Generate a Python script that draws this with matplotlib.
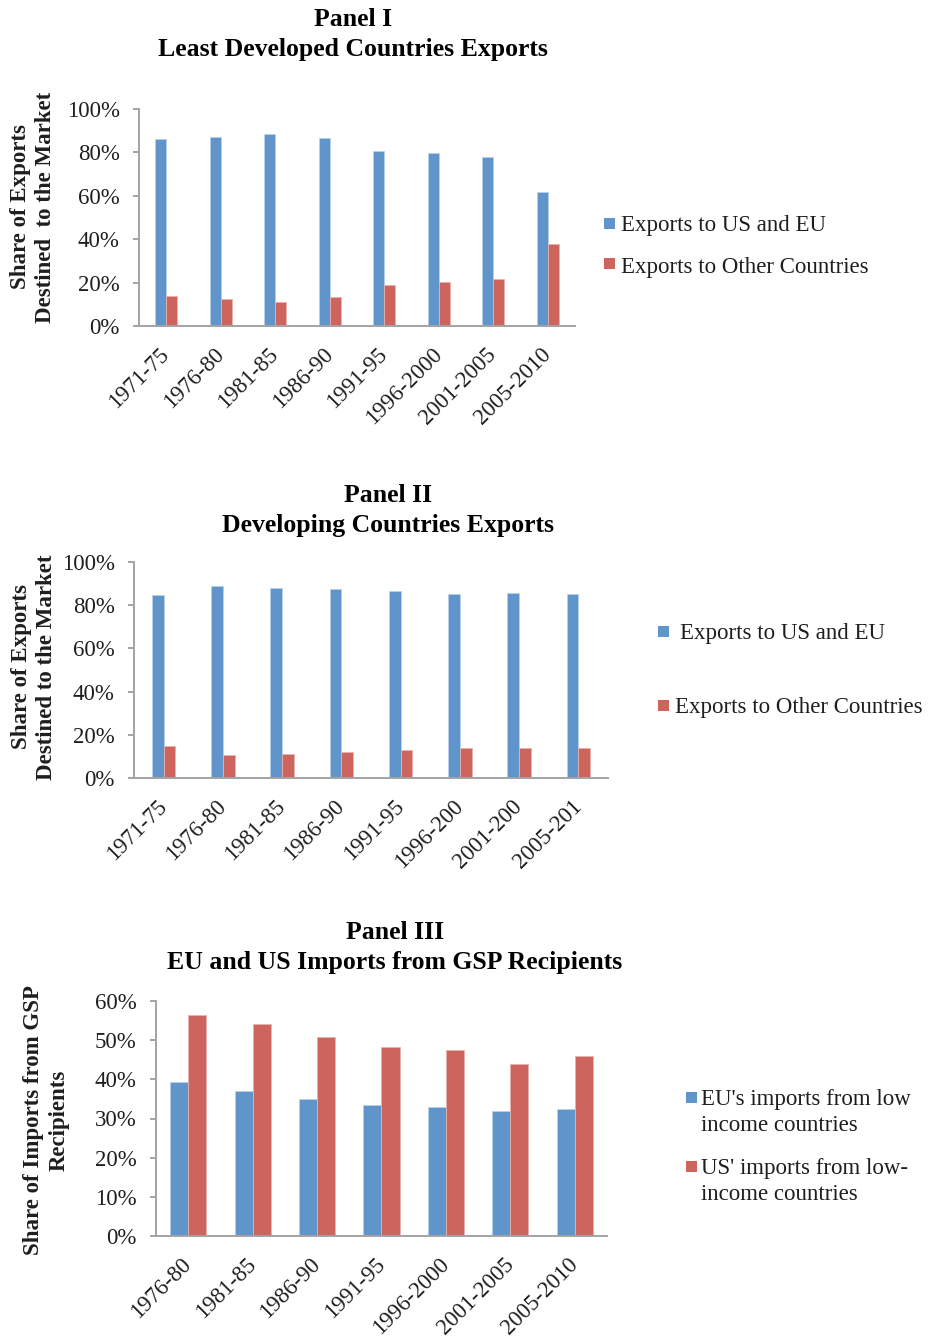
import matplotlib
matplotlib.use("Agg")
import matplotlib.pyplot as plt
from matplotlib.patches import Rectangle
import numpy as np

# ---------------- data ----------------
ldc_periods = ['1971-75', '1976-80', '1981-85', '1986-90', '1991-95',
               '1996-2000', '2001-2005', '2005-2010']
ldc_us_eu = [86.0, 86.9, 88.5, 86.6, 80.5, 79.6, 77.7, 61.8]
ldc_other = [13.7, 12.6, 11.1, 13.2, 18.9, 20.1, 21.8, 37.6]

dev_periods = ['1971-75', '1976-80', '1981-85', '1986-90', '1991-95',
               '1996-200', '2001-200', '2005-201']
dev_us_eu = [84.8, 88.7, 87.9, 87.5, 86.5, 85.3, 85.6, 85.1]
dev_other = [14.6, 10.7, 11.3, 11.9, 12.8, 14.1, 13.8, 14.1]

gsp_periods = ['1976-80', '1981-85', '1986-90', '1991-95',
               '1996-2000', '2001-2005', '2005-2010']
gsp_eu = [39.2, 37.1, 35.1, 33.4, 32.9, 31.8, 32.3]
gsp_us = [56.5, 54.1, 50.8, 48.3, 47.4, 43.9, 46.0]

export_labels = ['Exports to US and EU', 'Exports to Other Countries']
import_labels = ["EU's imports from low\nincome countries",
                 "US' imports from low-\nincome countries"]

# ---------------- style ----------------
W, H = 929, 1340
BLUE = '#5F95CA'
RED = '#CD645E'
AXIS_GREY = '#A3A3A3'
TEXT = '#1E1E1E'
SERIF = ['Liberation Serif', 'DejaVu Serif']
TICK_FS = 16.5

plt.rcParams['font.family'] = SERIF

fig = plt.figure(figsize=(W / 100, H / 100), dpi=100)


def fx(px):
    return px / W


def fy(py):
    return 1 - py / H


def add_axes_px(left, top, right, bottom):
    return fig.add_axes([fx(left), fy(bottom), (right - left) / W, (bottom - top) / H])


def draw_panel(ax, periods, s1, s2, width, ymax, ystep):
    x = np.arange(len(periods))
    ax.bar(x - width / 2, s1, width, color=BLUE, edgecolor='#B9D0EA', linewidth=0.6)
    ax.bar(x + width / 2, s2, width, color=RED, edgecolor='#E8B3AE', linewidth=0.6)
    ax.set_xlim(-0.5, len(periods) - 0.5)
    ax.set_ylim(0, ymax)
    ticks = np.arange(0, ymax + 0.1, ystep)
    ax.set_yticks(ticks)
    ax.set_yticklabels([f'{int(t)}%' for t in ticks], fontsize=TICK_FS, color=TEXT)
    ax.set_xticks(x)
    ax.set_xticklabels(periods, fontsize=TICK_FS, color=TEXT, rotation=45,
                       ha='right', va='center', rotation_mode='anchor')
    for side in ('top', 'right'):
        ax.spines[side].set_visible(False)
    for side in ('left', 'bottom'):
        ax.spines[side].set_color(AXIS_GREY)
        ax.spines[side].set_linewidth(1.4)
    ax.tick_params(axis='y', length=4.5, width=1.4, color=AXIS_GREY, pad=9.5)
    ax.tick_params(axis='x', length=0, pad=18)
    ax.set_facecolor('none')


def title_lines(cx, lines, baselines):
    for txt, b in zip(lines, baselines):
        fig.text(fx(cx), fy(b), txt, ha='center', va='baseline', fontsize=18.5,
                 fontweight='bold', color='black', family=SERIF)


def ylabel(cx, cy, txt):
    fig.text(fx(cx), fy(cy), txt, ha='center', va='center', rotation=90,
             fontsize=16.5, fontweight='bold', color=TEXT, family=SERIF,
             multialignment='center', linespacing=1.3)


def legend_entry(sq_x, sq_cy, text_x, baseline, label, color, lead=25.7):
    s = 11
    fig.patches.append(Rectangle((fx(sq_x), fy(sq_cy + s / 2)), s / W, s / H,
                                 transform=fig.transFigure, facecolor=color,
                                 edgecolor='none'))
    for i, line in enumerate(label.split('\n')):
        fig.text(fx(text_x), fy(baseline + i * lead), line, ha='left', va='baseline',
                 fontsize=TICK_FS, color=TEXT, family=SERIF)


# ---------------- Panel I ----------------
ax1 = add_axes_px(139, 109, 575, 326)
draw_panel(ax1, ldc_periods, ldc_us_eu, ldc_other, 0.2, 100, 20)
title_lines(353, ['Panel I', 'Least Developed Countries Exports'], [26, 56])
ylabel(33, 207, 'Share of Exports\nDestined  to the Market')
legend_entry(604, 223.5, 621, 231, export_labels[0], BLUE)
legend_entry(604, 263, 621, 273, export_labels[1], RED)

# ---------------- Panel II ----------------
ax2 = add_axes_px(134, 562, 608, 778)
draw_panel(ax2, dev_periods, dev_us_eu, dev_other, 0.2, 100, 20)
title_lines(388, ['Panel II', 'Developing Countries Exports'], [502, 532])
ylabel(34, 667, 'Share of Exports\nDestined to the Market')
legend_entry(658, 631, 680, 639, export_labels[0], BLUE)
legend_entry(658, 705, 675, 713, export_labels[1], RED)

# ---------------- Panel III ----------------
ax3 = add_axes_px(156, 1001, 607, 1236)
draw_panel(ax3, gsp_periods, gsp_eu, gsp_us, 0.28, 60, 10)
title_lines(395, ['Panel III', 'EU and US Imports from GSP Recipients'], [939, 969])
ylabel(46, 1120, 'Share of Imports from GSP\nRecipients')
legend_entry(686, 1097.5, 701, 1105, import_labels[0], BLUE)
legend_entry(686, 1166, 701, 1174, import_labels[1], RED)

fig.savefig('out.png', dpi=100, facecolor='white')
